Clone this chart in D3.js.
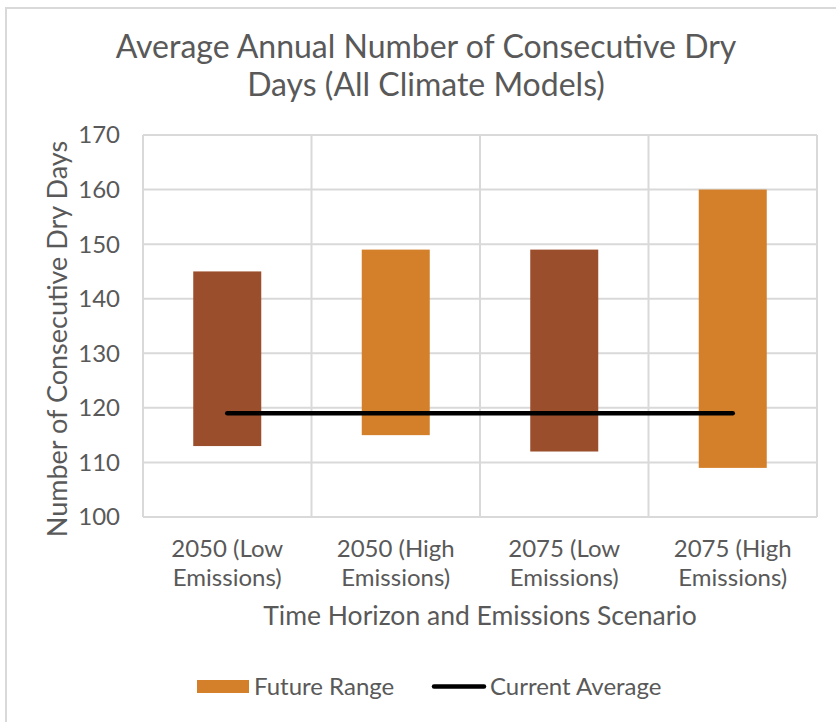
<!DOCTYPE html>
<html>
<head>
<meta charset="utf-8">
<script src="https://cdn.jsdelivr.net/npm/d3@7"></script>
<style>
  body { margin: 0; background: #fff; }
  text { font-family: Lato, "Open Sans", sans-serif; fill: #595959; }
</style>
</head>
<body>
<svg width="836" height="722"></svg>
<script>
// chart data
const categories = [["2050 (Low", "Emissions)"], ["2050 (High", "Emissions)"], ["2075 (Low", "Emissions)"], ["2075 (High", "Emissions)"]];
const rangeLow = [113, 115, 112, 109];
const rangeHigh = [145, 149, 149, 160];
const currentAverage = [119, 119, 119, 119];
const yTicks = [100, 110, 120, 130, 140, 150, 160, 170];
const barColors = ["#9B4E2B", "#D47F29", "#9B4E2B", "#D47F29"];

function draw() {
    var svg = d3.select("svg");

    // frame edges (only top and left are visible in the crop)
    svg.append("line")
        .attr("x1", 6).attr("x2", 836).attr("y1", 8).attr("y2", 8)
        .attr("stroke", "#d9d9d9").attr("stroke-width", 2);
    svg.append("line")
        .attr("x1", 6).attr("x2", 6).attr("y1", 7).attr("y2", 722)
        .attr("stroke", "#d9d9d9").attr("stroke-width", 2);

    var left = 143, right = 817, plotTop = 135, bottom = 517;
    var idx = d3.range(categories.length);
    var x = d3.scaleBand().domain(idx).range([left, right]);
    var y = d3.scaleLinear().domain([100, 170]).range([bottom, plotTop]);

    // title
    var title = svg.append("text")
        .attr("text-anchor", "middle")
        .attr("font-size", 32);
    title.append("tspan").attr("x", 426).attr("y", 58).text("Average Annual Number of Consecutive Dry");
    title.append("tspan").attr("x", 426).attr("y", 96).text("Days (All Climate Models)");

    // horizontal grid
    svg.append("g").selectAll("line").data(yTicks).enter().append("line")
        .attr("x1", left).attr("x2", right)
        .attr("y1", d => y(d)).attr("y2", d => y(d))
        .attr("stroke", "#d9d9d9").attr("stroke-width", 2);

    // vertical grid
    svg.append("g").selectAll("line").data(d3.range(categories.length + 1)).enter().append("line")
        .attr("x1", d => left + d * x.step()).attr("x2", d => left + d * x.step())
        .attr("y1", plotTop).attr("y2", bottom)
        .attr("stroke", "#d9d9d9").attr("stroke-width", 2);

    // y tick labels
    svg.append("g").selectAll("text").data(yTicks).enter().append("text")
        .attr("x", 120)
        .attr("y", d => y(d))
        .attr("dy", "0.35em")
        .attr("text-anchor", "end")
        .attr("font-size", 24)
        .text(d => d);

    // floating bars
    var barW = 68;
    svg.append("g").selectAll("rect").data(idx).enter().append("rect")
        .attr("x", i => x(i) + x.bandwidth() / 2 - barW / 2)
        .attr("width", barW)
        .attr("y", i => y(rangeHigh[i]))
        .attr("height", i => y(rangeLow[i]) - y(rangeHigh[i]))
        .attr("fill", (i) => barColors[i]);

    // current average line
    var line = d3.line()
        .x(i => x(i) + x.bandwidth() / 2)
        .y(i => y(currentAverage[i]));
    svg.append("path")
        .datum(idx)
        .attr("d", line)
        .attr("fill", "none")
        .attr("stroke", "#000")
        .attr("stroke-width", 4.5)
        .attr("stroke-linecap", "round");

    // x labels
    var xl = svg.append("g").selectAll("text").data(idx).enter().append("text")
        .attr("text-anchor", "middle")
        .attr("font-size", 24);
    xl.append("tspan").attr("x", i => x(i) + x.bandwidth() / 2).attr("y", 557).text(i => categories[i][0]);
    xl.append("tspan").attr("x", i => x(i) + x.bandwidth() / 2).attr("y", 586).text(i => categories[i][1]);

    // axis titles
    svg.append("text")
        .attr("x", 480).attr("y", 625)
        .attr("text-anchor", "middle")
        .attr("font-size", 26.5)
        .text("Time Horizon and Emissions Scenario");
    svg.append("text")
        .attr("transform", "translate(67,339) rotate(-90)")
        .attr("text-anchor", "middle")
        .attr("font-size", 27)
        .text("Number of Consecutive Dry Days");

    // legend
    var legend = svg.append("g");
    legend.append("rect")
        .attr("x", 197).attr("y", 680)
        .attr("width", 52).attr("height", 13)
        .attr("fill", "#D47F29");
    legend.append("text")
        .attr("x", 254).attr("y", 687).attr("dy", "0.35em")
        .attr("font-size", 24)
        .text("Future Range");
    legend.append("line")
        .attr("x1", 434).attr("x2", 484)
        .attr("y1", 686.5).attr("y2", 686.5)
        .attr("stroke", "#000").attr("stroke-width", 4.5)
        .attr("stroke-linecap", "round");
    legend.append("text")
        .attr("x", 490).attr("y", 687).attr("dy", "0.35em")
        .attr("font-size", 24)
        .text("Current Average");
}
draw();
</script>
</body>
</html>
